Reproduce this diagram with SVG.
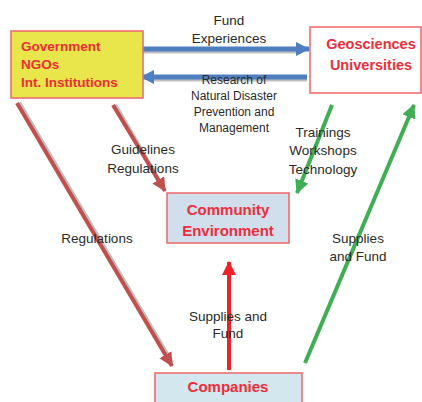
<svg xmlns="http://www.w3.org/2000/svg" width="422" height="402" viewBox="0 0 422 402">
<defs>
<marker id="hb" markerUnits="userSpaceOnUse" markerWidth="16" markerHeight="14" refX="13" refY="7" orient="auto"><path d="M0,0 L14,7 L0,14 Z" fill="#4f7fbf"/></marker>
<marker id="hr" markerUnits="userSpaceOnUse" markerWidth="16" markerHeight="14" refX="13" refY="7" orient="auto"><path d="M0,0 L14,7 L0,14 Z" fill="#c0504d"/></marker>
<marker id="hg" markerUnits="userSpaceOnUse" markerWidth="16" markerHeight="14" refX="13" refY="7" orient="auto"><path d="M0,0 L14,7 L0,14 Z" fill="#3fae54"/></marker>
<marker id="hx" markerUnits="userSpaceOnUse" markerWidth="16" markerHeight="14" refX="13" refY="7" orient="auto"><path d="M0,0 L14,7 L0,14 Z" fill="#ee2228"/></marker>
</defs>
<style>
.box{stroke:#ee6e6e;stroke-width:1.6}
.nt{font-family:"Liberation Sans",Arial,sans-serif;font-weight:bold;fill:#ee2d3a;text-anchor:middle}
.lb{font-family:"Liberation Sans",Arial,sans-serif;fill:#2a2a2a;text-anchor:middle}
.sh{stroke:#8a8a8a;stroke-opacity:0.55;fill:none}
</style>
<g id="connectors" fill="none">
<line class="sh" x1="143" y1="51" x2="297" y2="51" stroke-width="5"/>
<line x1="143" y1="49" x2="309" y2="49" stroke="#4f7fbf" stroke-width="5" marker-end="url(#hb)"/>
<line class="sh" x1="307" y1="79" x2="154" y2="79" stroke-width="5"/>
<line x1="307" y1="77" x2="141" y2="77" stroke="#4f7fbf" stroke-width="5" marker-end="url(#hb)"/>
<line class="sh" x1="19" y1="103" x2="172" y2="363" stroke-width="4.5"/>
<line x1="17" y1="103" x2="172" y2="366" stroke="#c0504d" stroke-width="4" marker-end="url(#hr)"/>
<line class="sh" x1="115" y1="105" x2="163" y2="188" stroke-width="4.5"/>
<line x1="113" y1="105" x2="165" y2="191" stroke="#c0504d" stroke-width="4" marker-end="url(#hr)"/>
<line x1="332" y1="105" x2="297" y2="193" stroke="#3fae54" stroke-width="4" marker-end="url(#hg)"/>
<line x1="305" y1="363" x2="414" y2="105" stroke="#3fae54" stroke-width="4" marker-end="url(#hg)"/>
<line x1="229" y1="370" x2="229" y2="262" stroke="#ee2228" stroke-width="4" marker-end="url(#hx)"/>
</g>
<g id="government">
<rect class="box" x="11" y="31" width="132" height="67" fill="#e8e64a"/>
<text class="nt" x="21" y="51" font-size="13.5" style="text-anchor:start">Government</text>
<text class="nt" x="21" y="69" font-size="13.5" style="text-anchor:start">NGOs</text>
<text class="nt" x="21" y="87" font-size="13.5" style="text-anchor:start">Int. Institutions</text>
</g>
<g id="geosciences">
<rect class="box" x="310" y="27" width="111" height="66" fill="#ffffff"/>
<text class="nt" x="371" y="49" font-size="14.5">Geosciences</text>
<text class="nt" x="371" y="70" font-size="14.5">Universities</text>
</g>
<g id="community">
<rect class="box" x="167" y="193" width="122" height="50" fill="#d1deeb"/>
<text class="nt" x="228" y="215" font-size="15">Community</text>
<text class="nt" x="228" y="236" font-size="15">Environment</text>
</g>
<g id="companies">
<rect class="box" x="155" y="373" width="147" height="32" fill="#d3e7ef"/>
<text class="nt" x="228" y="392" font-size="15">Companies</text>
</g>
<g id="labels">
<text class="lb" x="229" y="25" font-size="13.5">Fund</text>
<text class="lb" x="229" y="43" font-size="13.5">Experiences</text>
<text class="lb" x="234" y="84" font-size="12">Research of</text>
<text class="lb" x="234" y="100" font-size="12">Natural Disaster</text>
<text class="lb" x="234" y="116" font-size="12">Prevention and</text>
<text class="lb" x="234" y="132" font-size="12">Management</text>
<text class="lb" x="143" y="154" font-size="13.5">Guidelines</text>
<text class="lb" x="143" y="173" font-size="13.5">Regulations</text>
<text class="lb" x="97" y="243" font-size="13.5">Regulations</text>
<text class="lb" x="323" y="137" font-size="13.5">Trainings</text>
<text class="lb" x="323" y="155" font-size="13.5">Workshops</text>
<text class="lb" x="323" y="174" font-size="13.5">Technology</text>
<text class="lb" x="358" y="243" font-size="13.5">Supplies</text>
<text class="lb" x="358" y="261" font-size="13.5">and Fund</text>
<text class="lb" x="228" y="321" font-size="13.5">Supplies and</text>
<text class="lb" x="228" y="338" font-size="13.5">Fund</text>
</g>
</svg>
